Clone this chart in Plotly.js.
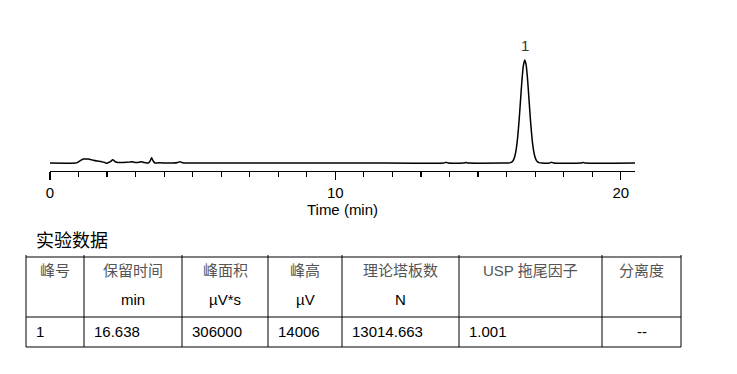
<!DOCTYPE html>
<html>
<head>
<meta charset="utf-8">
<script src="https://cdn.plot.ly/plotly-3.0.1.min.js"></script>
<style>html,body{margin:0;padding:0;background:#fff;}#chart{width:737px;height:374px;}</style>
</head>
<body>
<div id="chart"></div>
<script>
// Chromatogram (time in min, signal in µV)
const timeMin = [0, 0.9, 0.95, 1.05, 1.17, 1.25, 1.34, 1.42, 1.52, 1.65, 1.81, 1.92, 1.98, 2.05, 2.12, 2.2, 2.27, 2.33, 2.5, 2.68, 2.78, 2.86, 2.95, 3.04, 3.12, 3.21, 3.3, 3.39, 3.47, 3.52, 3.56, 3.61, 3.68, 3.8, 4.3, 4.48, 4.55, 4.62, 4.7, 5.5, 8.0, 11.0, 13.8, 13.88, 13.95, 14.5, 14.58, 14.65,
  16.0, 16.038, 16.138, 16.188, 16.238, 16.288, 16.338, 16.388, 16.438, 16.488, 16.538, 16.588, 16.638, 16.688, 16.738, 16.788, 16.838, 16.888, 16.938, 16.988, 17.038, 17.088, 17.138, 17.238, 17.5, 17.58, 17.65, 18.6, 18.68, 18.75, 20.5];
const signalUV = [0, 0, 60, 300, 540, 560, 540, 480, 360, 260, 180, 60, -40, 60, 180, 450, 220, 90, 60, 90, 120, 180, 100, 70, 110, 180, 60, 0, 60, 350, 720, 300, 0, 30, 0, 80, 180, 60, 0, 0, 10, 0, 0, 90, 0, 0, 60, 0,
  0, 0, 54, 156, 400, 920, 1895, 3493, 5758, 8495, 11215, 13250, 14006, 13250, 11215, 8495, 5758, 3493, 1895, 920, 400, 156, 54, 0, 0, 110, 0, 0, 80, 0, 0];
const xTickVals = [0, 10, 20];
const xTitle = 'Time (min)';
const peakNames = ['1'];
const peakTimes = [16.638];
const peakHeights = [14006];

// Table
const tableTitle = '实验数据';
const headLine1 = ['峰号', '保留时间', '峰面积', '峰高', '理论塔板数', 'USP 拖尾因子', '分离度'];
const headLine2 = ['', 'min', 'µV*s', 'µV', 'N', '', ''];
const rowValues = ['1', '16.638', '306000', '14006', '13014.663', '1.001', '--'];

// layout helpers (pixel units on the hidden table axes)
const colWidths = [58, 98, 86, 74, 117, 143, 79];
const tableLeft = 26, tableTop = 257, headBottom = 317, tableBottom = 347;
const cellAlign = ['left', 'left', 'left', 'left', 'left', 'left', 'center'];

const FONT = 'Liberation Sans, Arial, Noto Sans CJK SC, sans-serif';

const shapes = [];
const annotations = [];
let edges = [tableLeft];
colWidths.forEach(w => edges.push(edges[edges.length - 1] + w));
const tableRight = edges[edges.length - 1];
[tableTop, headBottom, tableBottom].forEach(y => shapes.push({type: 'line', xref: 'x2', yref: 'y2', x0: tableLeft, x1: tableRight, y0: y, y1: y, line: {color: '#000', width: 1}}));
edges.forEach(x => shapes.push({type: 'line', xref: 'x2', yref: 'y2', x0: x, x1: x, y0: tableTop - 2, y1: tableBottom, line: {color: '#000', width: 1}}));

annotations.push({xref: 'x2', yref: 'y2', x: 34, y: 241, text: tableTitle, showarrow: false, xanchor: 'left', yanchor: 'middle', font: {family: FONT, size: 18, color: '#000'}});
for (let i = 0; i < colWidths.length; i++) {
  const cx = (edges[i] + edges[i + 1]) / 2;
  annotations.push({xref: 'x2', yref: 'y2', x: cx, y: 270, text: headLine1[i], showarrow: false, xanchor: 'center', yanchor: 'middle', font: {family: FONT, size: 15, color: '#555'}});
  if (headLine2[i]) annotations.push({xref: 'x2', yref: 'y2', x: cx, y: 299, text: headLine2[i], showarrow: false, xanchor: 'center', yanchor: 'middle', font: {family: FONT, size: 15, color: '#000'}});
  const left = cellAlign[i] === 'left';
  annotations.push({xref: 'x2', yref: 'y2', x: left ? edges[i] + 8 : cx, y: 331, text: rowValues[i], showarrow: false, xanchor: left ? 'left' : 'center', yanchor: 'middle', font: {family: FONT, size: 15, color: '#000'}});
}
peakNames.forEach((n, i) => annotations.push({xref: 'x', yref: 'y', x: peakTimes[i], y: peakHeights[i], text: n, showarrow: false, yanchor: 'bottom', yshift: 4, font: {family: FONT, size: 15, color: '#333'}}));

const traces = [
  {x: timeMin, y: signalUV, type: 'scatter', mode: 'lines', line: {color: '#000', width: 1.5, shape: 'spline', smoothing: 0.6}, hoverinfo: 'skip', xaxis: 'x', yaxis: 'y'},
  {x: [], y: [], type: 'scatter', mode: 'markers', xaxis: 'x2', yaxis: 'y2', hoverinfo: 'skip'}
];

const W = 737, H = 374;
const layout = {
  width: W, height: H,
  margin: {l: 0, r: 0, t: 0, b: 0},
  paper_bgcolor: '#fff', plot_bgcolor: 'rgba(0,0,0,0)',
  showlegend: false,
  font: {family: FONT, size: 15, color: '#000'},
  xaxis: {domain: [50 / W, 635 / W], range: [0, 20.5], anchor: 'y', showgrid: false, zeroline: false,
    showline: true, linecolor: '#000', linewidth: 1.2,
    tickvals: xTickVals, ticks: 'outside', ticklen: 8, tickwidth: 1.2, tickcolor: '#000',
    minor: {dtick: 1, ticks: 'outside', ticklen: 5, tickwidth: 1.2, tickcolor: '#000', showgrid: false},
    tickfont: {family: FONT, size: 15, color: '#000'},
    title: {text: xTitle, font: {family: FONT, size: 15, color: '#000'}, standoff: 4}},
  yaxis: {domain: [1 - 171 / H, 1 - 40 / H], range: [-1088, 16726], visible: false, showgrid: false, zeroline: false},
  xaxis2: {domain: [0, 1], range: [0, W], anchor: 'y2', visible: false, showgrid: false, zeroline: false},
  yaxis2: {domain: [0, 1], range: [H, 0], anchor: 'x2', visible: false, showgrid: false, zeroline: false},
  shapes: shapes,
  annotations: annotations
};
Plotly.newPlot('chart', traces, layout, {staticPlot: true, displayModeBar: false});
</script>
</body>
</html>
